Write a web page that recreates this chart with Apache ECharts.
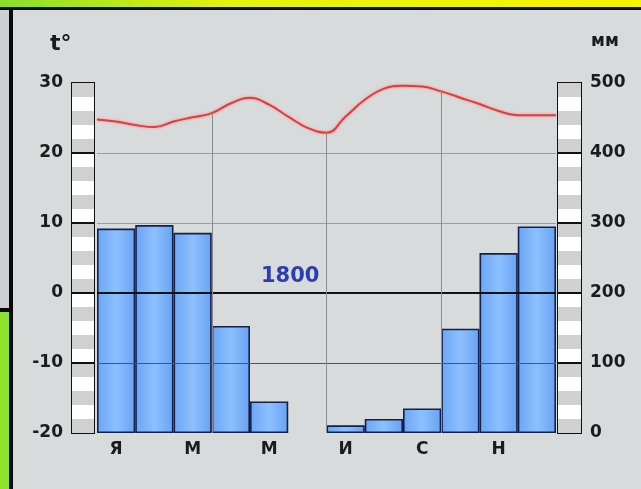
<!DOCTYPE html>
<html>
<head>
<meta charset="utf-8">
<script src="https://cdn.jsdelivr.net/npm/echarts@6/dist/echarts.min.js"></script>
<style>
  html, body { margin: 0; padding: 0; background: #d8dbdb; }
  #chart { width: 641px; height: 489px; }
</style>
</head>
<body>
<div id="chart"></div>
<script>
const months = ['Я', 'Ф', 'М', 'А', 'М', 'И', 'И', 'А', 'С', 'О', 'Н', 'Д']
// осадки по месяцам, мм
const precip = [292, 297, 286, 153, 45, 0, 11, 20, 35, 149, 257, 295]
const tempTrace = [24.8, 24.5, 24.0, 23.7, 24.5, 25.1, 25.7, 27.1, 27.9, 26.9, 25.2, 23.6,
                   22.9, 25.2, 27.6, 29.2, 29.6, 29.5, 28.8, 27.9, 27.0, 26.0, 25.4, 25.4, 25.4]
const annualTotal = '1800'
const tempMin = -20, tempMax = 30
const precipMin = 0, precipMax = 500
// границы кварталов, где опущены вертикальные линии
const quarterMarks = [3, 6, 9]

const font = 'DejaVu Sans'
const txt = '#1b1b1b'

function stripAxes(gridIndex, min, max, step, side) {
  const other = side === 'left' ? 'right' : 'left'
  return [
    {
      gridIndex, type: 'value', min, max, interval: step / 5, position: other,
      axisLine: { show: false }, axisTick: { show: false }, axisLabel: { show: false },
      splitLine: { show: false },
      splitArea: { show: true, areaStyle: { color: ['#d0d0d0', '#ffffff'] } }
    },
    {
      gridIndex, type: 'value', min, max, interval: step, position: side,
      axisLine: { show: false }, axisTick: { show: false },
      axisLabel: { margin: 9, color: txt, fontFamily: font, fontWeight: 'bold', fontSize: 17 },
      splitLine: { show: true, showMinLine: false, showMaxLine: false, lineStyle: { color: '#111', width: 2 } }
    }
  ]
}

const chart = echarts.init(document.getElementById('chart'))

const option = {
  backgroundColor: '#d8dbdb',
  animation: false,
  grid: [
    { left: 97, top: 83, width: 459, height: 350 },
    { left: 72, top: 83, width: 22, height: 350, show: true, borderColor: '#111', borderWidth: 2, backgroundColor: 'transparent' },
    { left: 558, top: 83, width: 23, height: 350, show: true, borderColor: '#111', borderWidth: 2, backgroundColor: 'transparent' }
  ],
  xAxis: [
    {
      gridIndex: 0, type: 'category', data: months, boundaryGap: true,
      axisLine: { lineStyle: { color: '#9a9a9a', width: 1 } },
      axisTick: { show: false },
      axisLabel: { interval: 1, margin: 8, color: txt, fontFamily: font, fontWeight: 'bold', fontSize: 17 }
    },
    { gridIndex: 0, type: 'value', min: 0, max: 12, show: false },
    { gridIndex: 1, type: 'value', show: false },
    { gridIndex: 2, type: 'value', show: false }
  ],
  yAxis: [
    {
      gridIndex: 0, type: 'value', min: tempMin, max: tempMax, interval: 10,
      axisLine: { show: false }, axisTick: { show: false }, axisLabel: { show: false },
      splitLine: { show: true, showMinLine: false, showMaxLine: false, lineStyle: { color: '#9c9c9c', width: 1 } }
    },
    {
      gridIndex: 0, type: 'value', min: precipMin, max: precipMax, interval: 100,
      show: false, splitLine: { show: false }
    },
    ...stripAxes(1, tempMin, tempMax, 10, 'left'),
    ...stripAxes(2, precipMin, precipMax, 100, 'right')
  ],
  series: [
    {
      type: 'bar', xAxisIndex: 0, yAxisIndex: 1,
      barCategoryGap: '0%',
      data: precip.map(v => v || '-'),
      itemStyle: {
        color: new echarts.graphic.LinearGradient(0, 0, 1, 0, [
          { offset: 0, color: '#6aa6f5' },
          { offset: 0.5, color: '#8cc0ff' },
          { offset: 1, color: '#68a2f2' }
        ]),
        borderColor: '#14204a', borderWidth: 1.6
      }
    },
    {
      type: 'line', xAxisIndex: 1, yAxisIndex: 0,
      data: tempTrace.map((t, i) => [i / 2, t]),
      smooth: 0.45, symbol: 'none',
      lineStyle: { color: '#e23a40', width: 2, shadowBlur: 3, shadowColor: 'rgba(255,110,110,0.7)' },
      markLine: {
        silent: true, symbol: 'none', label: { show: false },
        data: [
          { yAxis: 0, lineStyle: { color: '#111', width: 2, type: 'solid', shadowBlur: 0 } },
          { yAxis: -10, lineStyle: { color: '#4a5370', width: 1, type: 'solid', shadowBlur: 0 } }
        ].concat(quarterMarks.map(q => [
          { coord: [q, tempTrace[q * 2]], lineStyle: { color: '#8a8a8a', width: 1, type: 'solid', shadowBlur: 0 } },
          { coord: [q, tempMin] }
        ]))
      }
    }
  ],
  graphic: [
    { type: 'rect', left: 0, top: 0, shape: { width: 641, height: 7 },
      style: { fill: new echarts.graphic.LinearGradient(0, 0, 1, 0, [
        { offset: 0, color: '#8ade2c' }, { offset: 0.35, color: '#e4f20c' }, { offset: 1, color: '#f6f400' }]) } },
    { type: 'rect', left: 0, top: 7, shape: { width: 641, height: 3 }, style: { fill: '#0a0a0a' } },
    { type: 'rect', left: 0, top: 10, shape: { width: 9, height: 298 }, style: { fill: '#cdd0d0' } },
    { type: 'rect', left: 0, top: 312, shape: { width: 9, height: 177 }, style: { fill: '#8fe22c' } },
    { type: 'rect', left: 9, top: 7, shape: { width: 4, height: 482 }, style: { fill: '#0a0a0a' } },
    { type: 'rect', left: 0, top: 308, shape: { width: 13, height: 4 }, style: { fill: '#0a0a0a' } },
    { type: 'text', left: 50, top: 33, style: { text: 't°', fill: txt, font: 'bold 22px "DejaVu Sans"' } },
    { type: 'text', left: 591, top: 33, style: { text: 'мм', fill: txt, font: 'bold 17px "DejaVu Sans"' } },
    { type: 'text', left: 261, top: 266, style: { text: annualTotal, fill: '#2c3db2', font: 'bold 21px "DejaVu Sans"' } }
  ]
}

chart.setOption(option)
</script>
</body>
</html>
